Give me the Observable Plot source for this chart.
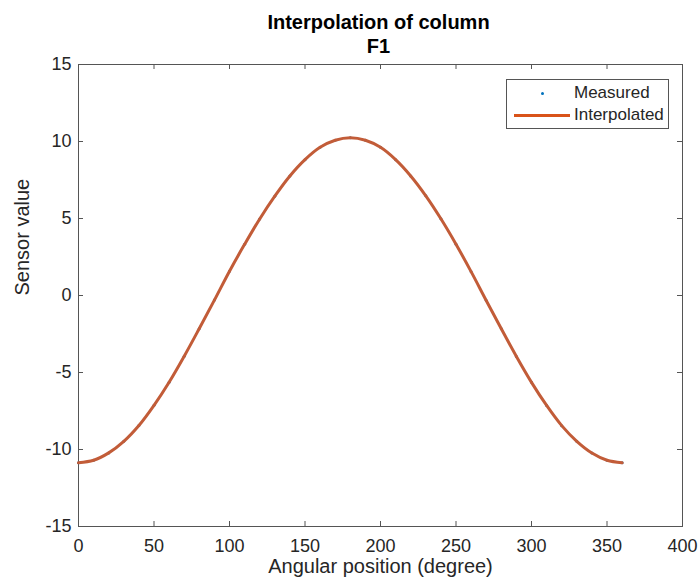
<!DOCTYPE html>
<html>
<head>
<meta charset="utf-8">
<script src="https://cdn.jsdelivr.net/npm/d3@7"></script>
<script src="https://cdn.jsdelivr.net/npm/@observablehq/plot@0.6"></script>
<style>
  html, body { margin: 0; padding: 0; background: #fff; }
  body { width: 699px; height: 583px; position: relative; overflow: hidden; font-family: "Liberation Sans", Arial, Helvetica, sans-serif; }
  #title { position: relative; z-index: 2; height: 44px; text-align: center; font-weight: bold; font-size: 20px; line-height: 24px; color: #000; padding-top: 10px; box-sizing: border-box; padding-left: 58px; overflow: visible; }
  #chart svg { display: block; }
  #legend { position: absolute; left: 506px; top: 79px; width: 163px; height: 50px; border: 1px solid #555; background: #fff; box-sizing: border-box; font-size: 17px; color: #262626; z-index: 3; }
  .row { position: absolute; left: 0; height: 20px; line-height: 20px; width: 160px; }
  .lab { position: absolute; left: 67px; white-space: nowrap; }
</style>
</head>
<body>
<div id="title">Interpolation of column<br>F1</div>
<div id="chart"></div>
<div id="legend">
  <div class="row" style="top:3px;"><span style="position:absolute;left:34px;top:9px;width:3px;height:3px;border-radius:50%;background:#0072BD;"></span><span class="lab">Measured</span></div>
  <div class="row" style="top:25px;"><span style="position:absolute;left:7px;top:9px;width:56px;height:3px;background:#D95319;"></span><span class="lab">Interpolated</span></div>
</div>
<script>
const angles = [0,10,20,30,40,50,60,70,80,90,100,110,120,130,140,150,160,170,180,190,200,210,220,230,240,250,260,270,280,290,300,310,320,330,340,350,360];
const sensor = [-10.86,-10.70,-10.22,-9.47,-8.44,-7.13,-5.63,-3.94,-2.14,-0.30,1.58,3.32,4.97,6.45,7.76,8.82,9.62,10.08,10.24,10.08,9.62,8.82,7.76,6.47,4.98,3.33,1.55,-0.32,-2.16,-3.96,-5.64,-7.14,-8.45,-9.47,-10.23,-10.70,-10.86];
const xTicks = [0,50,100,150,200,250,300,350,400];
const yTicks = [-15,-10,-5,0,5,10,15];

const data = angles.map((a, i) => ({angle: a, value: sensor[i]}));

const W = 699, H = 539;
const mT = 20, mB = 57, mL = 78, mR = 17;
const fh = H - mT - mB, fw = W - mL - mR;
const tk = 5;
const axisColor = "#555";
const fmt = d => String(d);

const chart = Plot.plot({
  width: W, height: H,
  marginTop: mT, marginBottom: mB, marginLeft: mL, marginRight: mR,
  style: {fontFamily: '"Liberation Sans", Arial, Helvetica, sans-serif', fontSize: "18px", color: "#262626", background: "transparent", overflow: "visible"},
  x: {domain: [0, 400], ticks: xTicks, label: null},
  y: {domain: [-15, 15], ticks: yTicks, label: null},
  marks: [
    Plot.frame({stroke: axisColor, strokeWidth: 1}),
    Plot.tickX(xTicks, {x: d => d, insetTop: fh - tk, stroke: axisColor}),
    Plot.tickX(xTicks, {x: d => d, insetBottom: fh - tk, stroke: axisColor}),
    Plot.tickY(yTicks, {y: d => d, insetRight: fw - tk, stroke: axisColor}),
    Plot.tickY(yTicks, {y: d => d, insetLeft: fw - tk, stroke: axisColor}),
    Plot.axisX(xTicks, {tickSize: 0, tickPadding: 13, fontSize: 18, fill: "#262626", tickFormat: fmt}),
    Plot.axisY(yTicks, {tickSize: 0, tickPadding: 7, fontSize: 18, fill: "#262626", tickFormat: fmt}),
    Plot.dot(data, {x: "angle", y: "value", r: 1.5, fill: "#2f6f9f", stroke: "none"}),
    Plot.line(data, {x: "angle", y: "value", curve: "catmull-rom", stroke: "#C25C38", strokeWidth: 3}),
    Plot.text(["Angular position (degree)"], {frameAnchor: "bottom", dy: 46, text: d => d, fontSize: 20, fill: "#262626"}),
    Plot.text(["Sensor value"], {frameAnchor: "left", dx: -56, rotate: -90, text: d => d, fontSize: 20, fill: "#262626"})
  ]
});
document.getElementById("chart").appendChild(chart);
</script>
</body>
</html>
